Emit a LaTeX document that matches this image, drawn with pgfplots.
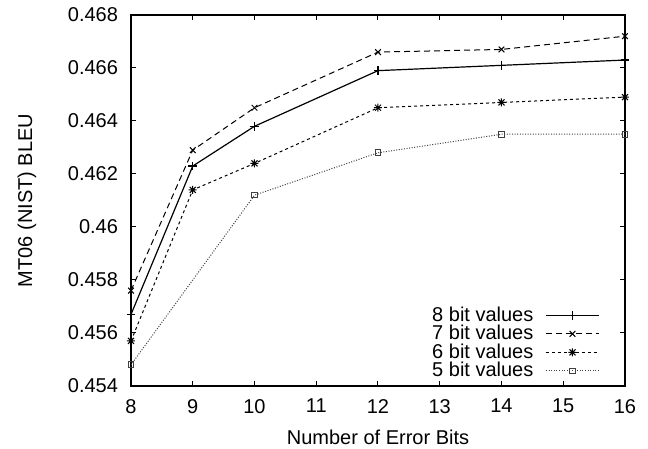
\documentclass[border=0pt]{standalone}
\usepackage{fontspec}
\setmainfont{Liberation Sans}
\usepackage{pgfplots}
\pgfplotsset{compat=1.18}
\pgfdeclareplotmark{plusx}{%
  \pgfpathmoveto{\pgfqpoint{-\pgfplotmarksize}{0pt}}%
  \pgfpathlineto{\pgfqpoint{\pgfplotmarksize}{0pt}}%
  \pgfpathmoveto{\pgfqpoint{0pt}{-\pgfplotmarksize}}%
  \pgfpathlineto{\pgfqpoint{0pt}{\pgfplotmarksize}}%
  \pgfpathmoveto{\pgfqpoint{-0.75\pgfplotmarksize}{-0.75\pgfplotmarksize}}%
  \pgfpathlineto{\pgfqpoint{0.75\pgfplotmarksize}{0.75\pgfplotmarksize}}%
  \pgfpathmoveto{\pgfqpoint{-0.75\pgfplotmarksize}{0.75\pgfplotmarksize}}%
  \pgfpathlineto{\pgfqpoint{0.75\pgfplotmarksize}{-0.75\pgfplotmarksize}}%
  \pgfusepathqstroke}
\begin{document}
\begin{tikzpicture}
\begin{axis}[
  name=ax,
  scale only axis,
  width=247pt, height=185.5pt,
  xmin=8, xmax=16, ymin=0.454, ymax=0.468,
  xtick={8,9,10,11,12,13,14,15,16},
  ytick={0.454,0.456,0.458,0.460,0.462,0.464,0.466,0.468},
  yticklabels={0.454,0.456,0.458,0.46,0.462,0.464,0.466,0.468},
  scaled y ticks=false,
  /pgf/number format/assume math mode=true,
  tick align=inside, tick pos=both,
  major tick length=2.5pt,
  axis line style={line width=0.6pt},
  every tick/.style={line width=0.5pt, black},
  ticklabel style={font=\fontsize{10}{12}\selectfont},
  xticklabel style={yshift=-3pt},
  yticklabel style={xshift=-3pt},
  xlabel={Number of Error Bits},
  ylabel={MT06 (NIST) BLEU},
  label style={font=\fontsize{10}{12}\selectfont},
  xlabel style={at={(axis description cs:0.5,-0.1375)}, anchor=center},
  ylabel style={at={(axis description cs:-0.2105,0.5)}, anchor=center},
  legend plot pos=right,
  legend cell align=right,
  legend style={at={(1,0)}, anchor=south east, xshift=-12.5pt, yshift=2pt,
    draw=none, fill=none, inner sep=0pt, row sep=-1.5pt, column sep=5pt,
    font=\fontsize{10}{12}\selectfont, nodes={inner sep=1pt}},
  legend image code/.code={%
    \draw[mark repeat=2,mark phase=2,#1] plot coordinates {(0pt,0pt)(13.25pt,0pt)(26.5pt,0pt)};},
  every axis plot/.append style={line width=0.5pt, black, mark options={solid}},
]
\addplot[mark=+, mark size=2.2pt, line width=0.6pt] coordinates {
  (8,0.4567) (9,0.4623) (10,0.4638) (12,0.4659) (14,0.4661) (16,0.4663)};
\addlegendentry{8 bit values}
\addplot[mark=x, mark size=2pt, dash pattern=on 3pt off 2pt] coordinates {
  (8,0.4576) (9,0.4629) (10,0.4645) (12,0.4666) (14,0.4667) (16,0.4672)};
\addlegendentry{7 bit values}
\addplot[mark=plusx, mark size=2pt, dash pattern=on 1.5pt off 1.5pt] coordinates {
  (8,0.4557) (9,0.4614) (10,0.4624) (12,0.4645) (14,0.4647) (16,0.4649)};
\addlegendentry{6 bit values}
\addplot[mark=square, mark size=1.4pt, draw=black!75, dash pattern=on 0.5pt off 0.8pt] coordinates {
  (8,0.4548) (10,0.4612) (12,0.4628) (14,0.4635) (16,0.4635)};
\addlegendentry{5 bit values}
\end{axis}
\pgfresetboundingbox
\path[use as bounding box] ([xshift=-65.5pt,yshift=-31.5pt]ax.south west) rectangle ([xshift=11.5pt,yshift=7.5pt]ax.north east);
\end{tikzpicture}
\end{document}
